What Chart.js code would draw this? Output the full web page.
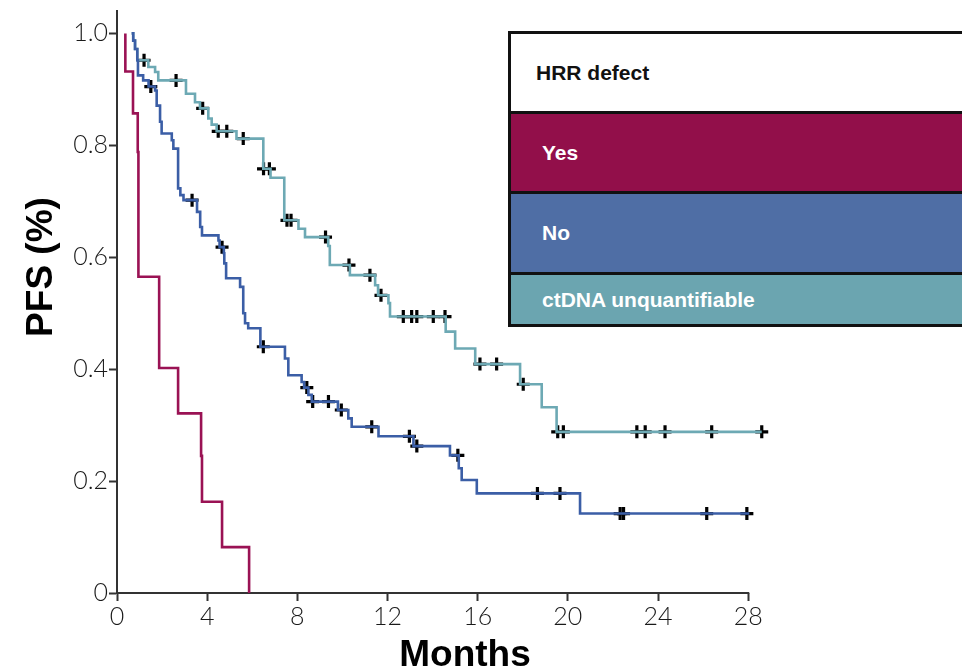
<!DOCTYPE html>
<html>
<head>
<meta charset="utf-8">
<script src="https://cdn.jsdelivr.net/npm/chart.js@4.4.1/dist/chart.umd.min.js"></script>
<style>
html,body{margin:0;padding:0;background:#fff;overflow:hidden;width:962px;height:667px;}
#wrap{position:relative;width:962px;height:667px;overflow:hidden;}
#c{position:absolute;left:0;top:0;}
#legend{position:absolute;left:508px;top:31px;width:480px;border:3px solid #111;border-right:none;box-sizing:border-box;font:bold 21px "Liberation Sans",Arial,sans-serif;}
#legend .row{box-sizing:border-box;display:flex;align-items:center;}
#legend .row + .row{border-top:3px solid #111;}
</style>
</head>
<body>
<div id="wrap">
<canvas id="c" width="962" height="667"></canvas>
<div id="legend"></div>
</div>
<script>
// ---- Data (months, survival probability) ----
const yesTimes = [0.37, 0.37, 0.71, 0.92, 0.95, 1.87, 2.71, 3.73, 3.77, 4.66, 5.86];
const yesSurv  = [1.0, 0.932, 0.857, 0.788, 0.565, 0.402, 0.321, 0.245, 0.163, 0.082, 0];

const noTimes = [0.65, 0.72, 0.80, 0.90, 0.93, 1.16, 1.40, 1.69, 1.76, 1.91, 1.98, 2.43, 2.50, 2.71, 2.81, 2.95, 3.55, 3.69, 3.77, 4.50, 4.55, 4.74, 4.76, 4.84, 5.46, 5.60, 5.68, 5.82, 6.36, 7.45, 7.60, 8.19, 8.30, 8.49, 8.64, 9.80, 10.26, 10.41, 11.60, 13.15, 14.77, 15.16, 15.29, 15.96, 20.54, 28.05];
const noSurv  = [1.0, 0.987, 0.972, 0.952, 0.925, 0.916, 0.905, 0.898, 0.871, 0.842, 0.821, 0.809, 0.794, 0.723, 0.711, 0.702, 0.681, 0.654, 0.639, 0.630, 0.618, 0.607, 0.589, 0.5625, 0.547, 0.50, 0.482, 0.473, 0.44, 0.419, 0.389, 0.377, 0.367, 0.354, 0.342, 0.327, 0.312, 0.297, 0.28, 0.2625, 0.246, 0.223, 0.202, 0.178, 0.142, 0.142];
const noCensTimes = [1.50, 3.33, 4.66, 6.49, 8.42, 8.68, 9.38, 9.95, 11.30, 12.97, 13.30, 15.12, 18.65, 19.65, 22.32, 22.47, 26.16, 27.94];
const noCensSurv  = [0.905, 0.702, 0.618, 0.44, 0.367, 0.342, 0.342, 0.327, 0.297, 0.28, 0.2625, 0.246, 0.178, 0.178, 0.142, 0.142, 0.142, 0.142];

const ctTimes = [0.65, 0.72, 0.80, 0.90, 1.39, 1.69, 1.83, 3.06, 3.46, 3.68, 4.05, 4.20, 4.42, 5.30, 6.49, 6.81, 7.42, 8.05, 8.34, 9.37, 9.44, 10.33, 11.45, 11.58, 12.04, 12.11, 14.58, 15.0, 15.89, 17.88, 18.84, 19.5, 28.6];
const ctSurv  = [1.0, 0.987, 0.972, 0.952, 0.94, 0.931, 0.916, 0.892, 0.877, 0.866, 0.848, 0.837, 0.825, 0.812, 0.758, 0.742, 0.666, 0.651, 0.636, 0.62, 0.586, 0.568, 0.55, 0.532, 0.518, 0.494, 0.467, 0.437, 0.409, 0.373, 0.332, 0.288, 0.288];
const ctCensTimes = [1.20, 2.62, 3.80, 4.49, 4.87, 5.60, 6.50, 6.76, 7.54, 7.72, 9.25, 10.29, 11.22, 11.71, 12.70, 13.07, 13.30, 14.03, 14.55, 16.10, 16.84, 18.02, 19.55, 19.80, 23.06, 23.43, 24.31, 26.38, 28.60];
const ctCensSurv  = [0.952, 0.916, 0.866, 0.825, 0.825, 0.812, 0.758, 0.758, 0.666, 0.666, 0.636, 0.586, 0.568, 0.532, 0.494, 0.494, 0.494, 0.494, 0.494, 0.409, 0.409, 0.373, 0.288, 0.288, 0.288, 0.288, 0.288, 0.288, 0.288];

const xTickValues = [0, 4, 8, 12, 16, 20, 24, 28];
const xTickLabels = ['0', '4', '8', '12', '16', '20', '24', '28'];
const yTickValues = [0, 0.2, 0.4, 0.6, 0.8, 1.0];
const yTickLabels = ['0', '0.2', '0.4', '0.6', '0.8', '1.0'];

const xTitle = 'Months';
const yTitle = 'PFS (%)';
const legendTitle = 'HRR defect';
const groupNames = ['Yes', 'No', 'ctDNA unquantifiable'];

// ---- Styles ----
const lineColors = ['#9A1254', '#3B5EA6', '#6DA9B4'];
const legendColors = ['#920F4A', '#4F6EA5', '#6BA5B0'];
const axisColor = '#333';

function pts(t, s) { return t.map((v, i) => ({x: v, y: s[i]})); }

function stepSet(label, t, s, color) {
  return { type: 'line', label, data: pts(t, s), borderColor: color, borderWidth: 2.6,
    stepped: 'before', pointRadius: 0, fill: false, tension: 0, clip: false };
}
function censSet(label, t, s) {
  return { type: 'line', label, data: pts(t, s), showLine: false, pointStyle: 'cross',
    pointRadius: 6.5, pointBorderColor: '#000', pointBorderWidth: 3.2, pointBackgroundColor: '#000', clip: false };
}

const axisPlugin = {
  id: 'axisExtras',
  beforeDatasetsDraw(chart) {
    // x-axis baseline from 0 to the last tick (28)
    const ctx = chart.ctx, xs = chart.scales.x, ys = chart.scales.y;
    const y0 = Math.round(ys.getPixelForValue(0));
    ctx.save();
    ctx.strokeStyle = axisColor;
    ctx.lineWidth = 2;
    ctx.beginPath();
    ctx.moveTo(xs.getPixelForValue(xTickValues[0]) - 1, y0);
    ctx.lineTo(xs.getPixelForValue(xTickValues[xTickValues.length - 1]) + 1, y0);
    ctx.stroke();
    ctx.restore();
  },
  afterDraw(chart) {
    const ctx = chart.ctx;
    ctx.save();
    ctx.fillStyle = '#000';
    ctx.font = 'bold 37px "Liberation Sans", Arial, sans-serif';
    ctx.textAlign = 'center';
    ctx.textBaseline = 'alphabetic';
    ctx.fillText(xTitle, 465, 666);
    ctx.translate(52, 267);
    ctx.rotate(-Math.PI / 2);
    ctx.fillText(yTitle, 0, 0);
    ctx.restore();
  }
};

const tickFont = { family: 'Lato, "Open Sans", sans-serif', size: 25, weight: '300' };

new Chart(document.getElementById('c'), {
  type: 'line',
  data: {
    datasets: [
      stepSet(groupNames[1], noTimes, noSurv, lineColors[1]),
      stepSet(groupNames[2], ctTimes, ctSurv, lineColors[2]),
      stepSet(groupNames[0], yesTimes, yesSurv, lineColors[0]),
      censSet('No censored', noCensTimes, noCensSurv),
      censSet('ctDNA censored', ctCensTimes, ctCensSurv)
    ]
  },
  options: {
    responsive: false,
    devicePixelRatio: 1,
    animation: false,
    layout: { padding: { left: 0, top: 11, right: 198, bottom: 0 } },
    plugins: { legend: { display: false }, tooltip: { enabled: false } },
    scales: {
      x: {
        type: 'linear', min: 0, max: 28.7,
        afterBuildTicks: (axis) => { axis.ticks = xTickValues.map(v => ({ value: v })); },
        afterFit: (axis) => { axis.height = 74; axis.paddingLeft = 0; axis.paddingRight = 0; },
        ticks: { font: tickFont, color: '#1a1a1a', padding: 1, maxRotation: 0,
          callback: (v, i) => xTickLabels[i] },
        grid: { drawOnChartArea: false, drawTicks: true, tickLength: 8, tickWidth: 2, tickColor: axisColor },
        border: { display: false }
      },
      y: {
        type: 'linear', min: 0, max: 1.04,
        afterBuildTicks: (axis) => { axis.ticks = yTickValues.map(v => ({ value: v })); },
        afterFit: (axis) => { axis.width = 117; axis.paddingTop = 0; axis.paddingBottom = 0; },
        ticks: { font: tickFont, color: '#1a1a1a', padding: 1,
          callback: (v, i) => yTickLabels[i] },
        grid: { drawOnChartArea: false, drawTicks: true, tickLength: 8, tickWidth: 2, tickColor: axisColor },
        border: { display: true, color: axisColor, width: 2 }
      }
    }
  },
  plugins: [axisPlugin]
});

// ---- Legend table ----
const legend = document.getElementById('legend');
const rowHeights = [77, 80, 81, 52];
const rowPads = [25, 31, 31, 31];
const rows = [{ text: legendTitle, bg: '#fff', fg: '#111' }].concat(
  groupNames.map((g, i) => ({ text: g, bg: legendColors[i], fg: '#fff' })));
rows.forEach((r, i) => {
  const d = document.createElement('div');
  d.className = 'row';
  d.style.height = rowHeights[i] + 'px';
  d.style.background = r.bg;
  d.style.color = r.fg;
  d.style.paddingLeft = rowPads[i] + 'px';
  d.textContent = r.text;
  legend.appendChild(d);
});
</script>
</body>
</html>
